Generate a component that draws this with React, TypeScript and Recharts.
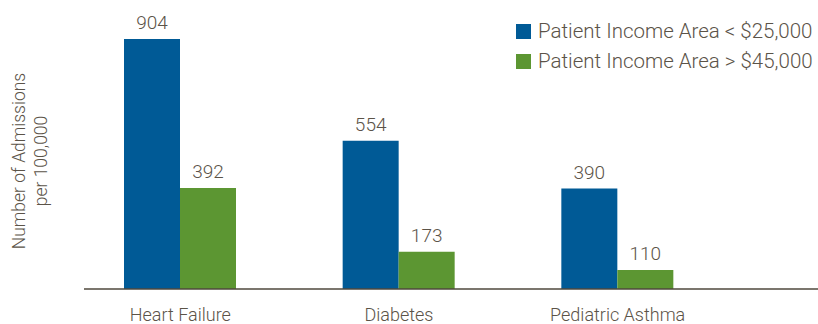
import { BarChart, Bar, XAxis, YAxis, Legend, LabelList } from "recharts"

const categories = ["Heart Failure", "Diabetes", "Pediatric Asthma"]
const lowIncome = [904, 554, 390]
const highIncome = [392, 173, 110]

const seriesNames = ["Patient Income Area < $25,000", "Patient Income Area > $45,000"]

const BLUE = "#005a96"
const GREEN = "#5c9632"
const TEXT = "#5b5348"
const FONT = "Roboto, 'Open Sans', sans-serif"

const chartData = categories.map((name, i) => ({
  name,
  low: lowIncome[i],
  high: highIncome[i],
}))

const LegendBox = (props: any) => {
  const items = props.payload || []
  return (
    <div style={{ fontFamily: FONT, fontSize: 20.5, color: TEXT, fontWeight: 300 }}>
      {items.map((item: any) => (
        <div key={item.value} style={{ display: "flex", alignItems: "center", height: 30 }}>
          <div style={{ width: 15, height: 15, background: item.color, marginRight: 7 }} />
          <span>{item.value}</span>
        </div>
      ))}
    </div>
  )
}

const YLabel = (props: any) => {
  const vb = props.viewBox || { x: 0, y: 0, height: 0 }
  const cy = vb.y + vb.height / 2 - 3
  return (
    <g fill={TEXT} fontFamily={FONT} fontSize={17.5} fontWeight={300}>
      <text x={19} y={cy} textAnchor="middle" dominantBaseline="central" transform={`rotate(-90, 19, ${cy})`}>
        Number of Admissions
      </text>
      <text x={41} y={cy} textAnchor="middle" dominantBaseline="central" transform={`rotate(-90, 41, ${cy})`}>
        per 100,000
      </text>
    </g>
  )
}

export default function App() {
  return (
    <div style={{ position: "absolute", left: 0, top: 0, background: "#fff" }}>
      <BarChart
        width={818}
        height={324}
        data={chartData}
        margin={{ top: 39, right: 0, left: 0, bottom: 0 }}
        barGap={0}
        barSize={56}
      >
        <XAxis
          dataKey="name"
          height={35}
          tickLine={false}
          tickMargin={13}
          padding={{ left: -13, right: 91 }}
          axisLine={{ stroke: "#4f493d", strokeWidth: 1.5 }}
          tick={{ fill: TEXT, fontSize: 18, fontFamily: FONT, fontWeight: 300 }}
        />
        <YAxis
          width={84}
          domain={[45, 904]}
          allowDataOverflow
          tick={false}
          tickLine={false}
          axisLine={false}
          label={<YLabel />}
        />
        <Legend
          layout="vertical"
          align="center"
          verticalAlign="middle"
          wrapperStyle={{ top: 16, left: 516, width: 310 }}
          content={<LegendBox />}
        />
        <Bar dataKey="low" name={seriesNames[0]} fill={BLUE} isAnimationActive={false}>
          <LabelList dataKey="low" position="top" offset={10} fill={TEXT} fontSize={19} fontFamily={FONT} fontWeight={300} />
        </Bar>
        <Bar dataKey="high" name={seriesNames[1]} fill={GREEN} isAnimationActive={false}>
          <LabelList dataKey="high" position="top" offset={10} fill={TEXT} fontSize={19} fontFamily={FONT} fontWeight={300} />
        </Bar>
      </BarChart>
    </div>
  )
}
